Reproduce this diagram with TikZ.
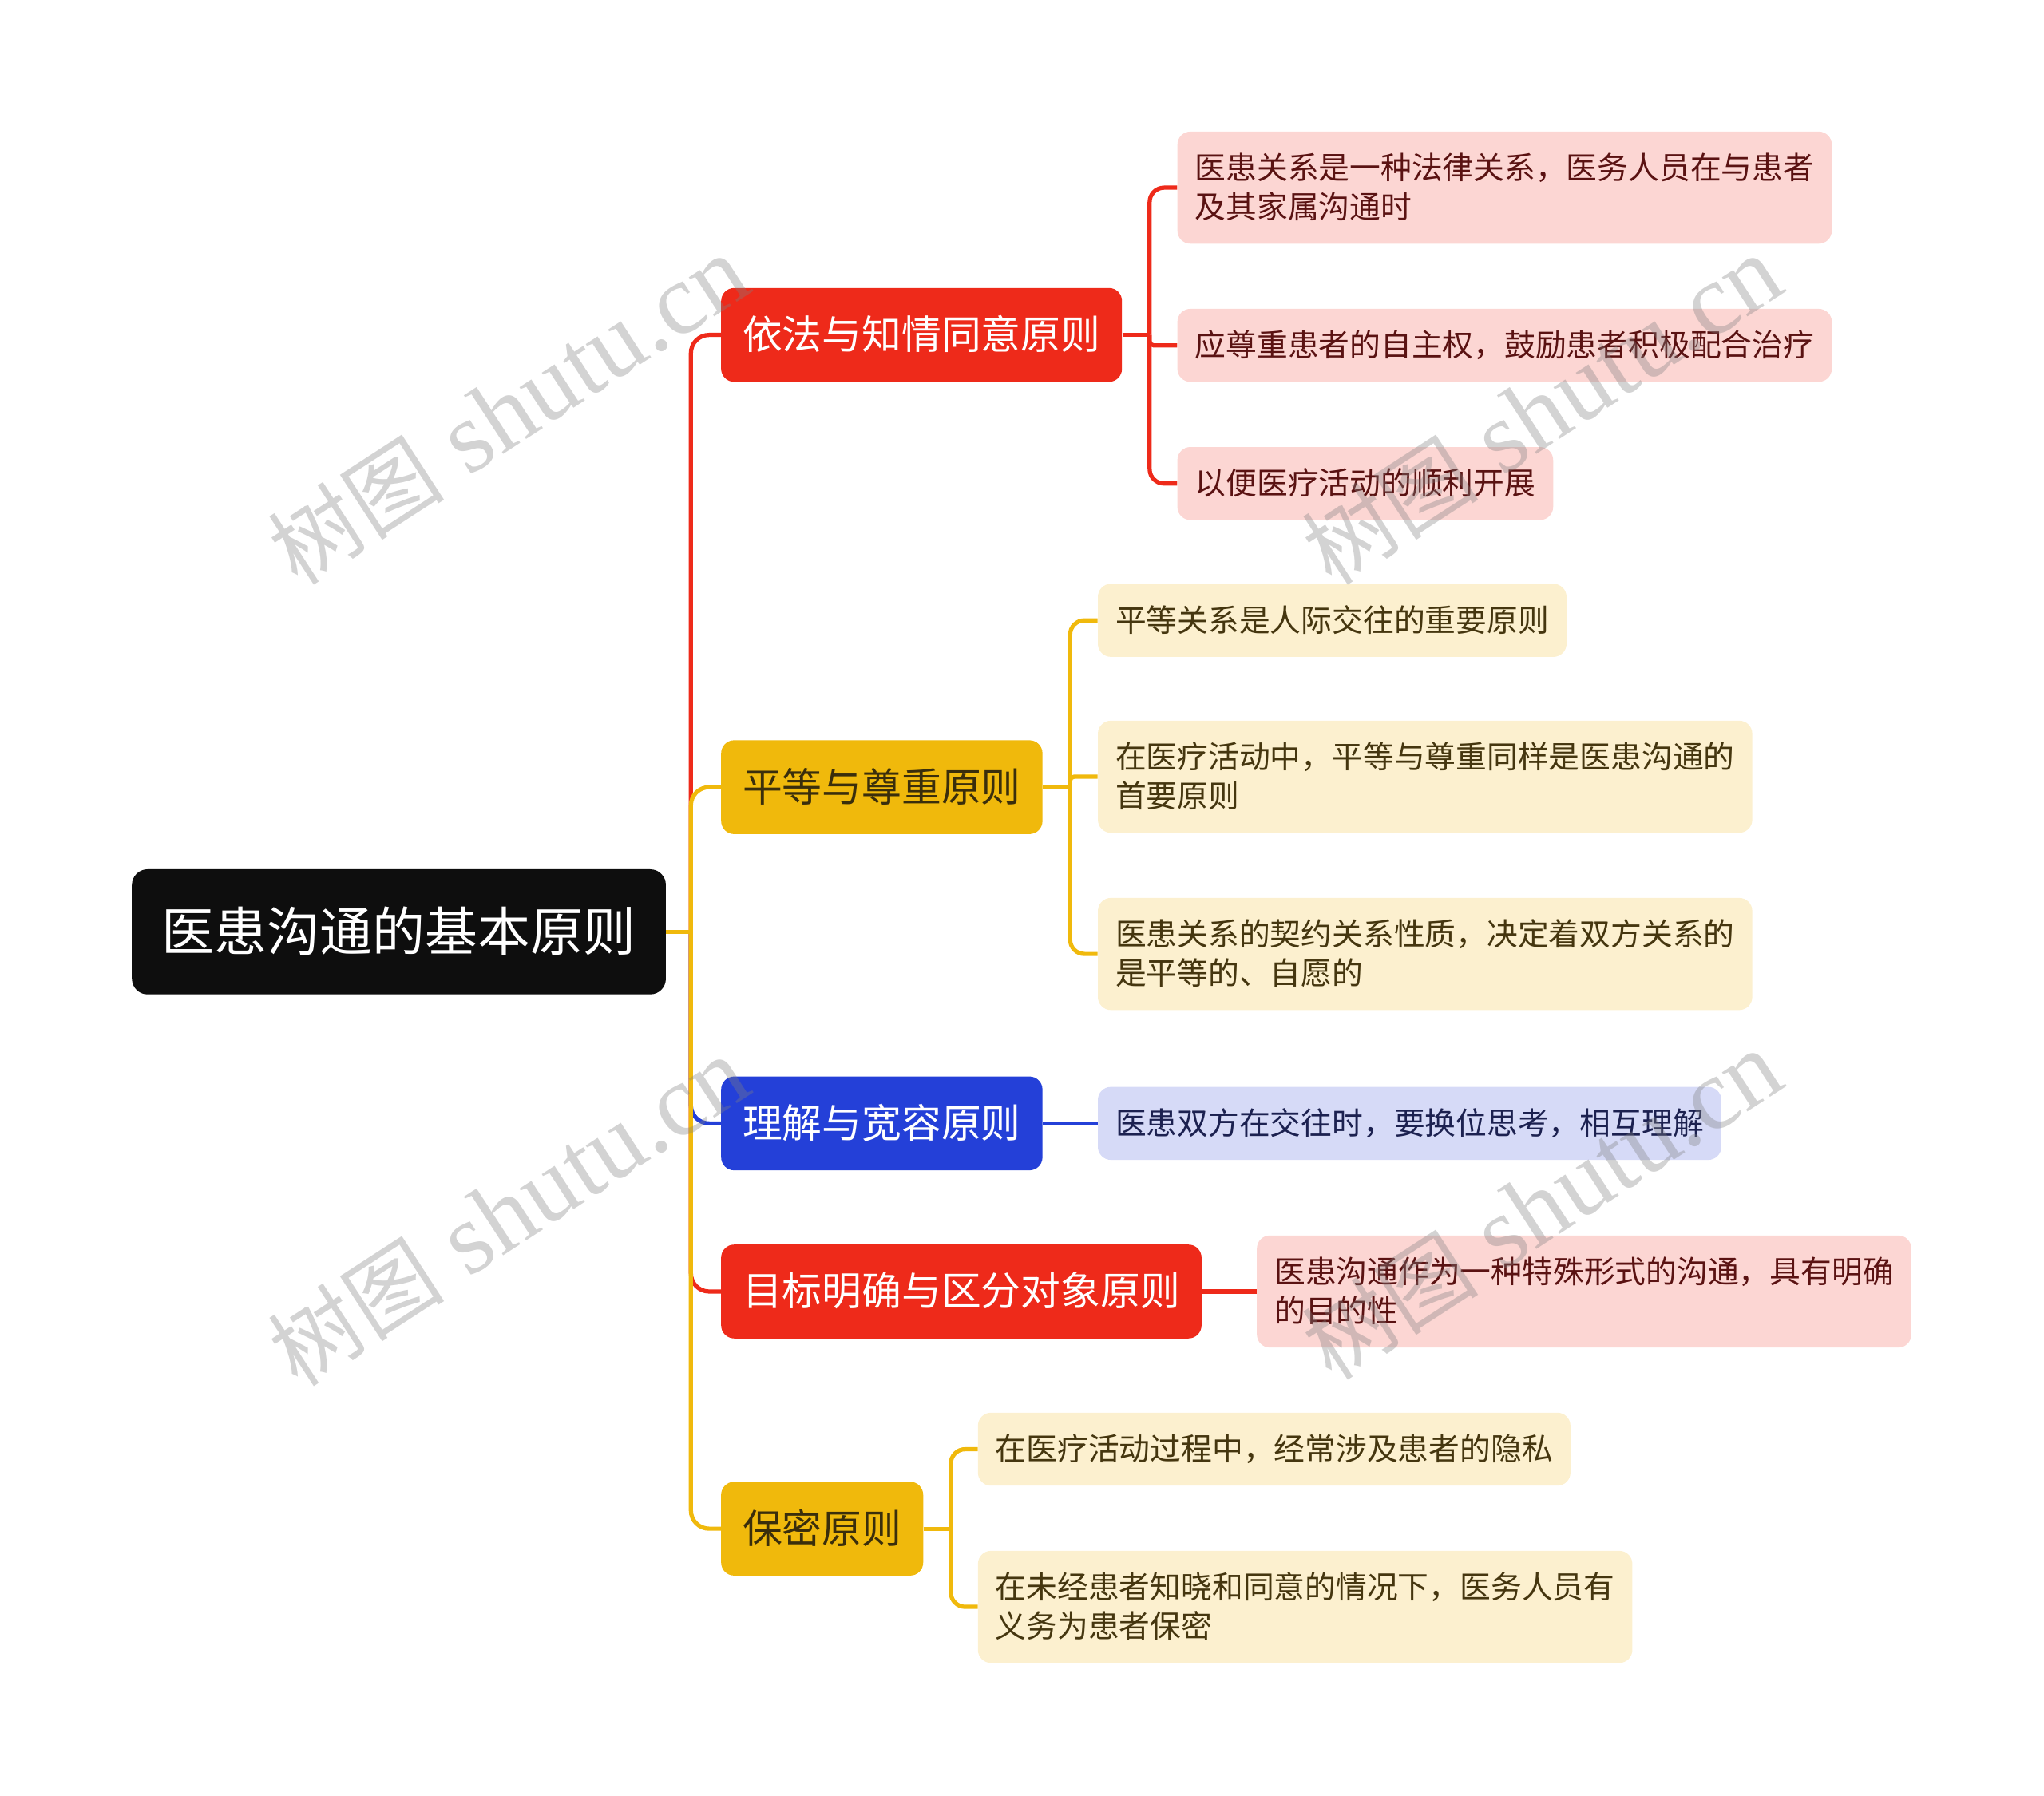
\documentclass[tikz,border=0pt]{standalone}
\usepackage{fontspec}
\newfontfamily\cjk{Noto Sans CJK SC}
\newfontfamily\wmlat{Liberation Serif}
\usetikzlibrary{backgrounds}
\definecolor{cRed}{HTML}{EE2A1A}
\definecolor{cYel}{HTML}{F0B90C}
\definecolor{cBlu}{HTML}{2440D8}
\definecolor{cBlk}{HTML}{0E0E0E}
\definecolor{fPink}{HTML}{FCD6D3}
\definecolor{fCream}{HTML}{FCF0CF}
\definecolor{fLav}{HTML}{D6DAF7}
\definecolor{tPink}{HTML}{5A1212}
\definecolor{tCream}{HTML}{45360F}
\definecolor{tLav}{HTML}{1C2150}
\definecolor{tYel}{HTML}{3A2E0C}
\newcommand\cjs{\rule[-0.14em]{0pt}{1em}}
\newcommand\wmtext{{\cjk\fontsize{68}{70}\selectfont 树图}{\wmlat\fontsize{78}{80}\selectfont\ shutu.cn}}
\tikzset{
  rootbox/.style={fill=cBlk, text=white, rounded corners=12pt, anchor=west,
    font=\cjk\fontsize{40.4}{48}\selectfont, inner xsep=23pt, inner ysep=0pt, minimum height=96pt},
  brbox/.style={rounded corners=10pt, anchor=west,
    font=\cjk\fontsize{30.5}{36}\selectfont, inner xsep=16.5pt, inner ysep=0pt, minimum height=72pt},
  redbr/.style={brbox, fill=cRed, text=white},
  yelbr/.style={brbox, fill=cYel, text=tYel},
  blubr/.style={brbox, fill=cBlu, text=white},
  leafbox/.style={rounded corners=10pt, anchor=west, align=left,
    font=\cjk\fontsize{23.75}{30}\selectfont, inner xsep=13.5pt, inner ysep=0pt, minimum height=56pt},
  pinkleaf/.style={leafbox, fill=fPink, text=tPink},
  creamleaf/.style={leafbox, fill=fCream, text=tCream},
  lavleaf/.style={leafbox, fill=fLav, text=tLav},
  twoline/.style={minimum height=86pt},
  conn/.style={line width=3.2pt},
  trunk/.style={conn, rounded corners=14pt},
  twig/.style={conn, rounded corners=11pt},
  jog/.style={conn, rounded corners=3pt},
  wm/.style={text=gray, opacity=0.35, rotate=33, inner sep=0pt}
}
\begin{document}
\begin{tikzpicture}[x=1pt,y=-1pt]
\useasboundingbox (0,0) rectangle (1568,1378);
% root
\node[rootbox] (root) at (101,715) {\cjs 医患沟通的基本原则};
% branches
\node[redbr] (b1) at (553,257) {\cjs 依法与知情同意原则};
\node[yelbr] (b2) at (553,604) {\cjs 平等与尊重原则};
\node[blubr] (b3) at (553,862) {\cjs 理解与宽容原则};
\node[redbr] (b4) at (553,991) {\cjs 目标明确与区分对象原则};
\node[yelbr] (b5) at (553,1173) {\cjs 保密原则};
% leaves
\node[pinkleaf,twoline] (l1a) at (903,144) {\cjs 医患关系是一种法律关系，医务人员在与患者\\\cjs 及其家属沟通时};
\node[pinkleaf] (l1b) at (903,265) {\cjs 应尊重患者的自主权，鼓励患者积极配合治疗};
\node[pinkleaf] (l1c) at (903,371) {\cjs 以便医疗活动的顺利开展};
\node[creamleaf] (l2a) at (842,476) {\cjs 平等关系是人际交往的重要原则};
\node[creamleaf,twoline] (l2b) at (842,596) {\cjs 在医疗活动中，平等与尊重同样是医患沟通的\\\cjs 首要原则};
\node[creamleaf,twoline] (l2c) at (842,732) {\cjs 医患关系的契约关系性质，决定着双方关系的\\\cjs 是平等的、自愿的};
\node[lavleaf] (l3a) at (842,862) {\cjs 医患双方在交往时，要换位思考，相互理解};
\node[pinkleaf,twoline] (l4a) at (964,991) {\cjs 医患沟通作为一种特殊形式的沟通，具有明确\\\cjs 的目的性};
\node[creamleaf] (l5a) at (750,1112) {\cjs 在医疗活动过程中，经常涉及患者的隐私};
\node[creamleaf,twoline] (l5b) at (750,1233) {\cjs 在未经患者知晓和同意的情况下，医务人员有\\\cjs 义务为患者保密};
% junctions
\coordinate (J) at (530,715);
\coordinate (J1) at ([xshift=21pt]b1.east);
\coordinate (J2) at ([xshift=21pt]b2.east);
\coordinate (J5) at ([xshift=21pt]b5.east);
\begin{pgfonlayer}{background}
  \draw[trunk,cRed] (J) |- (b1.west);
  \draw[trunk,cYel] (J) |- (b2.west);
  \draw[trunk,cBlu] (J) |- (b3.west);
  \draw[trunk,cRed] (J) |- (b4.west);
  \draw[trunk,cYel] (J) |- (b5.west);
  \draw[conn,cYel] (root.east) -- (J);
  % branch 1
  \draw[conn,cRed] (b1.east) -- (J1);
  \draw[twig,cRed] (J1) |- (l1a.west);
  \draw[jog,cRed] (J1) |- (l1b.west);
  \draw[twig,cRed] (J1) |- (l1c.west);
  % branch 2
  \draw[conn,cYel] (b2.east) -- (J2);
  \draw[twig,cYel] (J2) |- (l2a.west);
  \draw[jog,cYel] (J2) |- (l2b.west);
  \draw[twig,cYel] (J2) |- (l2c.west);
  % branch 3, 4
  \draw[conn,cBlu] (b3.east) -- (l3a.west);
  \draw[conn,cRed] (b4.east) -- (l4a.west);
  % branch 5
  \draw[conn,cYel] (b5.east) -- (J5);
  \draw[twig,cYel] (J5) |- (l5a.west);
  \draw[twig,cYel] (J5) |- (l5b.west);
\end{pgfonlayer}
% watermarks
\node[wm] (wm1) at (390,315) {\wmtext};
\node[wm] (wm2) at (1183,315) {\wmtext};
\node[wm] (wm3) at (390,930) {\wmtext};
\node[wm] (wm4) at (1183,925) {\wmtext};
\end{tikzpicture}
\end{document}
